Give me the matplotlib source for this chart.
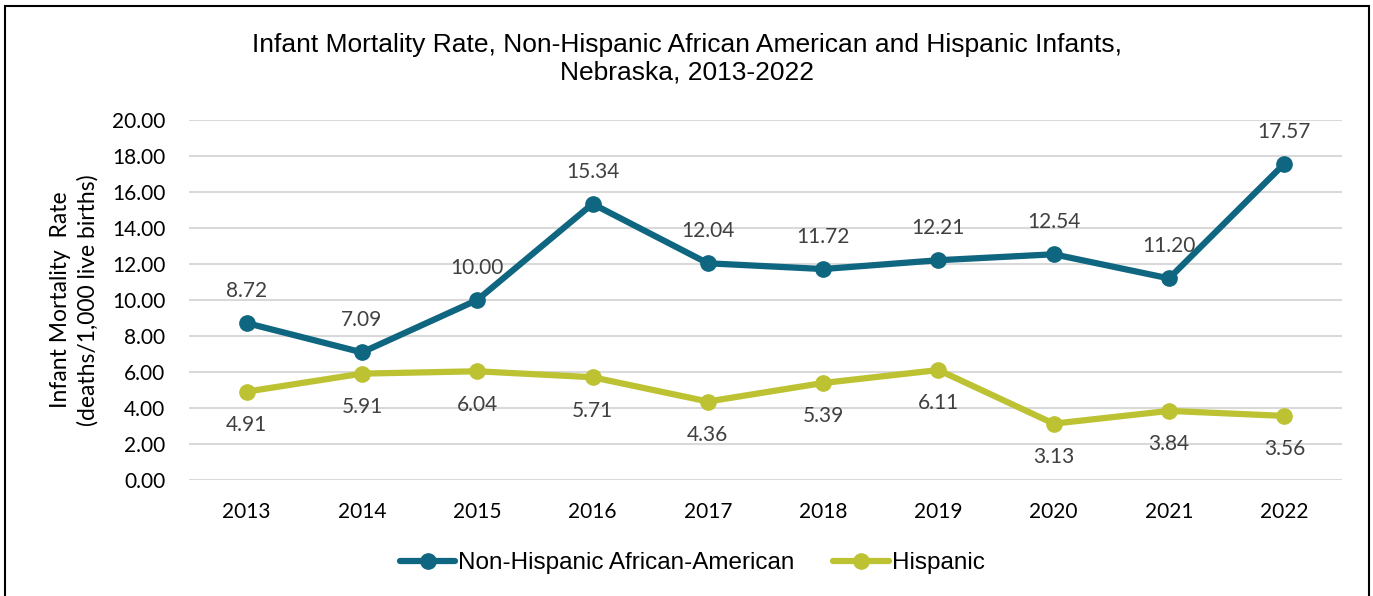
import numpy as np
import matplotlib
matplotlib.use("Agg")
import matplotlib.pyplot as plt
from matplotlib.patches import Rectangle

years = ["2013", "2014", "2015", "2016", "2017", "2018", "2019", "2020", "2021", "2022"]
african_american = [8.72, 7.09, 10.00, 15.34, 12.04, 11.72, 12.21, 12.54, 11.20, 17.57]
hispanic = [4.91, 5.91, 6.04, 5.71, 4.36, 5.39, 6.11, 3.13, 3.84, 3.56]
yticks = [0, 2, 4, 6, 8, 10, 12, 14, 16, 18, 20]

BLUE = "#0F6680"
GREEN = "#BDC232"
LABEL = "#404040"
NUMFONT = "Lato"
TXTFONT = "Liberation Sans"

W, H = 1373, 596
fig = plt.figure(figsize=(W / 100, H / 100), dpi=100)
ax = fig.add_axes([189 / W, 1 - 480 / H, (1342 - 189) / W, 360 / H])

x = np.arange(len(years))
ax.plot(x, african_american, color=BLUE, lw=4.5, marker="o", ms=11,
        label="Non-Hispanic African-American", solid_capstyle="round")
ax.plot(x, hispanic, color=GREEN, lw=4.5, marker="o", ms=11,
        label="Hispanic", solid_capstyle="round")

for xi, v in zip(x, african_american):
    ax.annotate(f"{v:.2f}", (xi, v), xytext=(0, 23), textcoords="offset points",
                ha="center", va="center", fontsize=15, color=LABEL, family=NUMFONT)
for xi, v in zip(x, hispanic):
    ax.annotate(f"{v:.2f}", (xi, v), xytext=(0, -24), textcoords="offset points",
                ha="center", va="center", fontsize=15, color=LABEL, family=NUMFONT)

ax.set_xlim(-0.5, len(years) - 0.5)
ax.set_ylim(0, 20)
ax.set_yticks(yticks)
ax.set_yticklabels([f"{t:.2f}" for t in yticks], family=NUMFONT, fontsize=15)
ax.set_xticks(x)
ax.set_xticklabels(years, family=NUMFONT, fontsize=15)
ax.tick_params(length=0, pad=17, axis="y")
ax.tick_params(length=0, pad=16, axis="x")
ax.grid(axis="y", color="#D9D9D9", lw=1.5)
ax.set_axisbelow(True)
for s in ax.spines.values():
    s.set_visible(False)

ax.set_ylabel("Infant Mortality  Rate\n(deaths/1,000 live births)",
              family=NUMFONT, fontsize=16.5, labelpad=10, linespacing=1.3)

fig.text(0.5, 1 - 59 / H,
         "Infant Mortality Rate, Non-Hispanic African American and Hispanic Infants,\nNebraska, 2013-2022",
         ha="center", va="center", fontsize=19, family=TXTFONT, linespacing=1.2)

leg = fig.legend(loc="center", bbox_to_anchor=(0.504, 1 - 563 / H), ncol=2,
                 frameon=False, prop={"family": TXTFONT, "size": 17.5},
                 handlelength=2.3, handletextpad=0.1, columnspacing=1.6)

fig.patches.append(Rectangle((5 / W, -0.05), (1369 - 5) / W, 1.05 - 6 / H,
                             transform=fig.transFigure, fill=False,
                             edgecolor="black", lw=1.5))

fig.savefig("out.png", dpi=100)
